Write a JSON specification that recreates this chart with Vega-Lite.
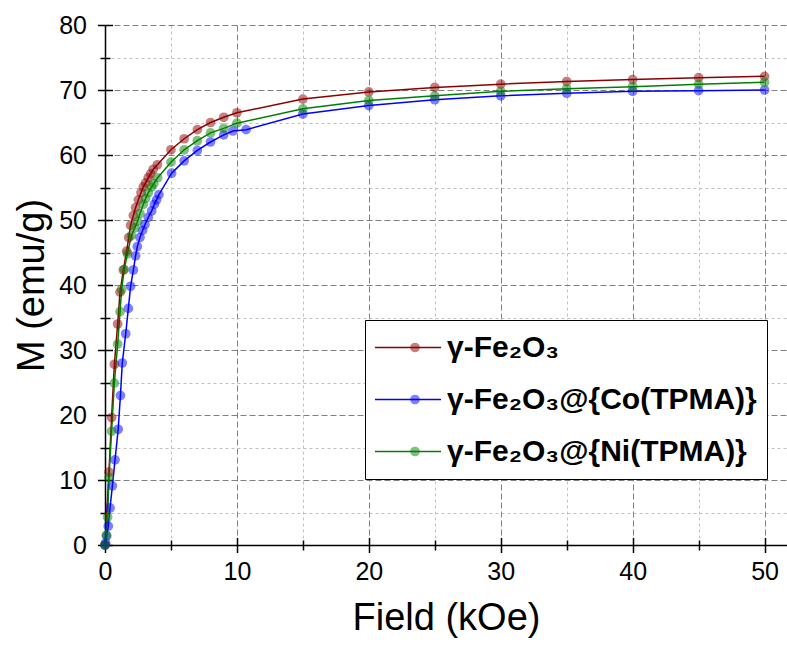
{
  "$schema": "https://vega.github.io/schema/vega-lite/v6.json",
  "width": 682,
  "height": 520,
  "autosize": {"type": "none"},
  "padding": {"left": 105, "top": 25, "right": 0, "bottom": 105},
  "background": "white",
  "config": {
    "view": {"stroke": null},
    "font": "Liberation Sans",
    "axis": {"labelFlush": false, "labelOverlap": false, "labelFont": "Liberation Sans", "titleFont": "Liberation Sans"}
  },
  "data": {
    "values": [
      {"sample": "γ-Fe₂O₃", "field": 0, "M": 0},
      {"sample": "γ-Fe₂O₃", "field": 0.3, "M": 11.2},
      {"sample": "γ-Fe₂O₃", "field": 0.5, "M": 19.6},
      {"sample": "γ-Fe₂O₃", "field": 0.71, "M": 27.8},
      {"sample": "γ-Fe₂O₃", "field": 0.96, "M": 34.0},
      {"sample": "γ-Fe₂O₃", "field": 1.14, "M": 38.9},
      {"sample": "γ-Fe₂O₃", "field": 1.39, "M": 42.3},
      {"sample": "γ-Fe₂O₃", "field": 1.64, "M": 45.2},
      {"sample": "γ-Fe₂O₃", "field": 1.8, "M": 47.3},
      {"sample": "γ-Fe₂O₃", "field": 1.94, "M": 49.2},
      {"sample": "γ-Fe₂O₃", "field": 2.15, "M": 50.7},
      {"sample": "γ-Fe₂O₃", "field": 2.32, "M": 51.9},
      {"sample": "γ-Fe₂O₃", "field": 2.53, "M": 53.1},
      {"sample": "γ-Fe₂O₃", "field": 2.73, "M": 54.2},
      {"sample": "γ-Fe₂O₃", "field": 2.9, "M": 55.1},
      {"sample": "γ-Fe₂O₃", "field": 3.08, "M": 55.7},
      {"sample": "γ-Fe₂O₃", "field": 3.28, "M": 56.5},
      {"sample": "γ-Fe₂O₃", "field": 3.46, "M": 57.1},
      {"sample": "γ-Fe₂O₃", "field": 3.66, "M": 57.8},
      {"sample": "γ-Fe₂O₃", "field": 3.97, "M": 58.5},
      {"sample": "γ-Fe₂O₃", "field": 5, "M": 60.8},
      {"sample": "γ-Fe₂O₃", "field": 6, "M": 62.5},
      {"sample": "γ-Fe₂O₃", "field": 7, "M": 63.9},
      {"sample": "γ-Fe₂O₃", "field": 8, "M": 65.0},
      {"sample": "γ-Fe₂O₃", "field": 9, "M": 65.8},
      {"sample": "γ-Fe₂O₃", "field": 10, "M": 66.5},
      {"sample": "γ-Fe₂O₃", "field": 15, "M": 68.6},
      {"sample": "γ-Fe₂O₃", "field": 20, "M": 69.7},
      {"sample": "γ-Fe₂O₃", "field": 25, "M": 70.4},
      {"sample": "γ-Fe₂O₃", "field": 30, "M": 70.9},
      {"sample": "γ-Fe₂O₃", "field": 35, "M": 71.3},
      {"sample": "γ-Fe₂O₃", "field": 40, "M": 71.6},
      {"sample": "γ-Fe₂O₃", "field": 45, "M": 71.9},
      {"sample": "γ-Fe₂O₃", "field": 50, "M": 72.1},

      {"sample": "γ-Fe₂O₃@{Co(TPMA)}", "field": 0, "M": 0},
      {"sample": "γ-Fe₂O₃@{Co(TPMA)}", "field": 0.05, "M": 0.3},
      {"sample": "γ-Fe₂O₃@{Co(TPMA)}", "field": 0.13, "M": 1.4},
      {"sample": "γ-Fe₂O₃@{Co(TPMA)}", "field": 0.25, "M": 2.9},
      {"sample": "γ-Fe₂O₃@{Co(TPMA)}", "field": 0.38, "M": 5.7},
      {"sample": "γ-Fe₂O₃@{Co(TPMA)}", "field": 0.56, "M": 9.1},
      {"sample": "γ-Fe₂O₃@{Co(TPMA)}", "field": 0.76, "M": 13.1},
      {"sample": "γ-Fe₂O₃@{Co(TPMA)}", "field": 1.0, "M": 17.8},
      {"sample": "γ-Fe₂O₃@{Co(TPMA)}", "field": 1.17, "M": 23.0},
      {"sample": "γ-Fe₂O₃@{Co(TPMA)}", "field": 1.31, "M": 28.0},
      {"sample": "γ-Fe₂O₃@{Co(TPMA)}", "field": 1.57, "M": 32.5},
      {"sample": "γ-Fe₂O₃@{Co(TPMA)}", "field": 1.77, "M": 36.4},
      {"sample": "γ-Fe₂O₃@{Co(TPMA)}", "field": 1.94, "M": 39.8},
      {"sample": "γ-Fe₂O₃@{Co(TPMA)}", "field": 2.15, "M": 42.3},
      {"sample": "γ-Fe₂O₃@{Co(TPMA)}", "field": 2.32, "M": 44.5},
      {"sample": "γ-Fe₂O₃@{Co(TPMA)}", "field": 2.45, "M": 45.9},
      {"sample": "γ-Fe₂O₃@{Co(TPMA)}", "field": 2.65, "M": 47.3},
      {"sample": "γ-Fe₂O₃@{Co(TPMA)}", "field": 2.85, "M": 48.4},
      {"sample": "γ-Fe₂O₃@{Co(TPMA)}", "field": 3.03, "M": 49.3},
      {"sample": "γ-Fe₂O₃@{Co(TPMA)}", "field": 3.28, "M": 50.4},
      {"sample": "γ-Fe₂O₃@{Co(TPMA)}", "field": 3.54, "M": 51.4},
      {"sample": "γ-Fe₂O₃@{Co(TPMA)}", "field": 3.74, "M": 52.4},
      {"sample": "γ-Fe₂O₃@{Co(TPMA)}", "field": 3.91, "M": 53.1},
      {"sample": "γ-Fe₂O₃@{Co(TPMA)}", "field": 4.09, "M": 53.9},
      {"sample": "γ-Fe₂O₃@{Co(TPMA)}", "field": 5.05, "M": 57.2},
      {"sample": "γ-Fe₂O₃@{Co(TPMA)}", "field": 6, "M": 59.1},
      {"sample": "γ-Fe₂O₃@{Co(TPMA)}", "field": 7, "M": 60.7},
      {"sample": "γ-Fe₂O₃@{Co(TPMA)}", "field": 8, "M": 62.0},
      {"sample": "γ-Fe₂O₃@{Co(TPMA)}", "field": 9, "M": 63.1},
      {"sample": "γ-Fe₂O₃@{Co(TPMA)}", "field": 9.7, "M": 63.7},
      {"sample": "γ-Fe₂O₃@{Co(TPMA)}", "field": 10.7, "M": 63.9},
      {"sample": "γ-Fe₂O₃@{Co(TPMA)}", "field": 15, "M": 66.3},
      {"sample": "γ-Fe₂O₃@{Co(TPMA)}", "field": 20, "M": 67.6},
      {"sample": "γ-Fe₂O₃@{Co(TPMA)}", "field": 25, "M": 68.5},
      {"sample": "γ-Fe₂O₃@{Co(TPMA)}", "field": 30, "M": 69.1},
      {"sample": "γ-Fe₂O₃@{Co(TPMA)}", "field": 35, "M": 69.5},
      {"sample": "γ-Fe₂O₃@{Co(TPMA)}", "field": 40, "M": 69.8},
      {"sample": "γ-Fe₂O₃@{Co(TPMA)}", "field": 45, "M": 69.9},
      {"sample": "γ-Fe₂O₃@{Co(TPMA)}", "field": 50, "M": 70.0},

      {"sample": "γ-Fe₂O₃@{Ni(TPMA)}", "field": 0, "M": 0},
      {"sample": "γ-Fe₂O₃@{Ni(TPMA)}", "field": 0.1, "M": 1.5},
      {"sample": "γ-Fe₂O₃@{Ni(TPMA)}", "field": 0.2, "M": 4.3},
      {"sample": "γ-Fe₂O₃@{Ni(TPMA)}", "field": 0.3, "M": 10.4},
      {"sample": "γ-Fe₂O₃@{Ni(TPMA)}", "field": 0.5, "M": 17.5},
      {"sample": "γ-Fe₂O₃@{Ni(TPMA)}", "field": 0.71, "M": 24.9},
      {"sample": "γ-Fe₂O₃@{Ni(TPMA)}", "field": 0.96, "M": 30.9},
      {"sample": "γ-Fe₂O₃@{Ni(TPMA)}", "field": 1.14, "M": 35.9},
      {"sample": "γ-Fe₂O₃@{Ni(TPMA)}", "field": 1.26, "M": 39.3},
      {"sample": "γ-Fe₂O₃@{Ni(TPMA)}", "field": 1.46, "M": 42.4},
      {"sample": "γ-Fe₂O₃@{Ni(TPMA)}", "field": 1.7, "M": 44.8},
      {"sample": "γ-Fe₂O₃@{Ni(TPMA)}", "field": 2.0, "M": 47.6},
      {"sample": "γ-Fe₂O₃@{Ni(TPMA)}", "field": 2.27, "M": 48.8},
      {"sample": "γ-Fe₂O₃@{Ni(TPMA)}", "field": 2.47, "M": 49.8},
      {"sample": "γ-Fe₂O₃@{Ni(TPMA)}", "field": 2.65, "M": 51.0},
      {"sample": "γ-Fe₂O₃@{Ni(TPMA)}", "field": 2.9, "M": 52.4},
      {"sample": "γ-Fe₂O₃@{Ni(TPMA)}", "field": 3.08, "M": 53.3},
      {"sample": "γ-Fe₂O₃@{Ni(TPMA)}", "field": 3.28, "M": 54.2},
      {"sample": "γ-Fe₂O₃@{Ni(TPMA)}", "field": 3.54, "M": 55.1},
      {"sample": "γ-Fe₂O₃@{Ni(TPMA)}", "field": 3.7, "M": 55.6},
      {"sample": "γ-Fe₂O₃@{Ni(TPMA)}", "field": 3.99, "M": 56.5},
      {"sample": "γ-Fe₂O₃@{Ni(TPMA)}", "field": 5, "M": 58.9},
      {"sample": "γ-Fe₂O₃@{Ni(TPMA)}", "field": 6, "M": 60.8},
      {"sample": "γ-Fe₂O₃@{Ni(TPMA)}", "field": 7, "M": 62.2},
      {"sample": "γ-Fe₂O₃@{Ni(TPMA)}", "field": 8, "M": 63.4},
      {"sample": "γ-Fe₂O₃@{Ni(TPMA)}", "field": 9, "M": 64.1},
      {"sample": "γ-Fe₂O₃@{Ni(TPMA)}", "field": 10, "M": 64.9},
      {"sample": "γ-Fe₂O₃@{Ni(TPMA)}", "field": 15, "M": 67.1},
      {"sample": "γ-Fe₂O₃@{Ni(TPMA)}", "field": 20, "M": 68.4},
      {"sample": "γ-Fe₂O₃@{Ni(TPMA)}", "field": 25, "M": 69.1},
      {"sample": "γ-Fe₂O₃@{Ni(TPMA)}", "field": 30, "M": 69.8},
      {"sample": "γ-Fe₂O₃@{Ni(TPMA)}", "field": 35, "M": 70.2},
      {"sample": "γ-Fe₂O₃@{Ni(TPMA)}", "field": 40, "M": 70.5},
      {"sample": "γ-Fe₂O₃@{Ni(TPMA)}", "field": 45, "M": 70.9},
      {"sample": "γ-Fe₂O₃@{Ni(TPMA)}", "field": 50, "M": 71.2}
    ]
  },
  "layer": [
    {
      "mark": {"type": "line", "strokeWidth": 1.5},
      "encoding": {
        "x": {"field": "field", "type": "quantitative", "scale": {"domain": [0, 51.7], "nice": false, "zero": false},
          "axis": {"orient": "bottom", "values": [0, 10, 20, 30, 40, 50], "grid": true, "gridColor": "#808080", "gridDash": [6, 3], "gridWidth": 1, "ticks": false, "labels": false, "domain": true, "domainColor": "black", "domainWidth": 1.5, "title": null}},
        "y": {"field": "M", "type": "quantitative", "scale": {"domain": [0, 80], "nice": false},
          "axis": {"orient": "left", "values": [0, 10, 20, 30, 40, 50, 60, 70, 80], "grid": true, "gridColor": "#808080", "gridDash": [6, 3], "gridWidth": 1, "ticks": false, "labels": false, "domain": true, "domainColor": "black", "domainWidth": 1.5, "title": null}},
        "color": {"field": "sample", "type": "nominal",
          "scale": {"domain": ["γ-Fe₂O₃", "γ-Fe₂O₃@{Co(TPMA)}", "γ-Fe₂O₃@{Ni(TPMA)}"], "range": ["#8b0000", "#0000ff", "#008000"]},
          "legend": {"orient": "none", "legendX": 260, "legendY": 295, "title": null, "symbolType": "stroke", "symbolSize": 4900, "symbolStrokeWidth": 1.5, "symbolOffset": -5, "labelOffset": 5, "labelFont": "Liberation Sans", "labelFontSize": 30, "labelFontWeight": "bold", "labelColor": "black", "labelLimit": 0, "clipHeight": 35, "rowPadding": 17, "padding": 10, "fillColor": "white", "strokeColor": "black"}}
      }
    },
    {
      "mark": {"type": "point", "filled": true, "size": 95, "opacity": 0.5},
      "encoding": {
        "x": {"field": "field", "type": "quantitative",
          "axis": {"orient": "bottom", "values": [5, 15, 25, 35, 45], "grid": true, "gridColor": "#c0c0c0", "gridDash": [3, 3], "gridWidth": 1, "ticks": false, "labels": false, "domain": false, "title": null}},
        "y": {"field": "M", "type": "quantitative",
          "axis": {"orient": "left", "values": [5, 15, 25, 35, 45, 55, 65, 75], "grid": true, "gridColor": "#c0c0c0", "gridDash": [3, 3], "gridWidth": 1, "ticks": false, "labels": false, "domain": false, "title": null}},
        "color": {"field": "sample", "type": "nominal",
          "legend": {"orient": "none", "legendX": 285, "legendY": 295, "title": null, "symbolType": "circle", "symbolSize": 95, "symbolOpacity": 0.5, "labelExpr": "''", "labelFontSize": 30, "labelLimit": 0, "clipHeight": 35, "rowPadding": 17, "padding": 10}}
      }
    },
    {
      "mark": {"type": "point", "opacity": 0},
      "encoding": {
        "x": {"field": "field", "type": "quantitative",
          "axis": {"orient": "bottom", "values": [0, 10, 20, 30, 40, 50], "offset": -7.5, "tickSize": 15, "tickWidth": 1.5, "tickColor": "black", "domain": false, "grid": false, "labelFontSize": 25, "labelColor": "black", "labelPadding": 7, "title": "Field (kOe)", "titleFontSize": 38, "titleFontWeight": "normal", "titleColor": "black", "titlePadding": 15}},
        "y": {"field": "M", "type": "quantitative",
          "axis": {"orient": "left", "values": [0, 10, 20, 30, 40, 50, 60, 70, 80], "offset": -7.5, "tickSize": 15, "tickWidth": 1.5, "tickColor": "black", "domain": false, "grid": false, "labelFontSize": 25, "labelColor": "black", "labelPadding": 11, "title": "M (emu/g)", "titleFontSize": 38, "titleFontWeight": "normal", "titleColor": "black", "titlePadding": 7}}
      }
    },
    {
      "mark": {"type": "point", "opacity": 0},
      "encoding": {
        "x": {"field": "field", "type": "quantitative",
          "axis": {"orient": "bottom", "values": [5, 15, 25, 35, 45], "offset": -5, "tickSize": 10, "tickWidth": 1.5, "tickColor": "black", "domain": false, "grid": false, "labels": false, "title": null}},
        "y": {"field": "M", "type": "quantitative",
          "axis": {"orient": "left", "values": [5, 15, 25, 35, 45, 55, 65, 75], "offset": -5, "tickSize": 10, "tickWidth": 1.5, "tickColor": "black", "domain": false, "grid": false, "labels": false, "title": null}}
      }
    }
  ],
  "resolve": {"axis": {"x": "independent", "y": "independent"}, "legend": {"color": "independent"}}
}
